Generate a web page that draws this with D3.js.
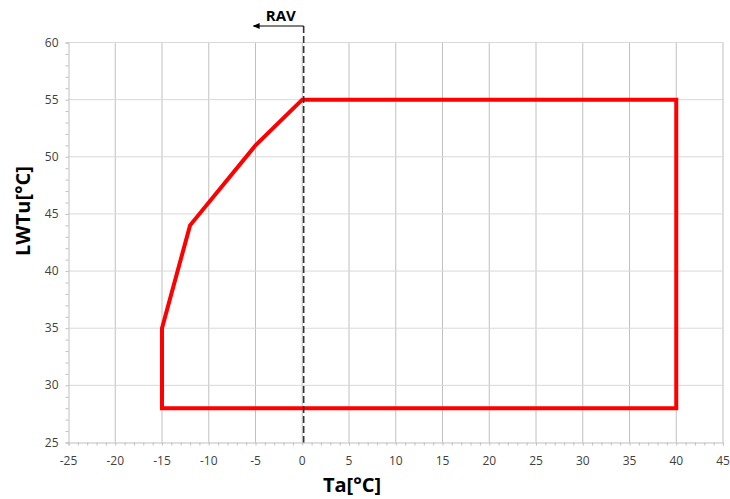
<!DOCTYPE html>
<html><head><meta charset="utf-8">
<script src="https://cdn.jsdelivr.net/npm/d3@7"></script>
<style>body{margin:0;background:#fff}svg{display:block}</style>
</head><body><svg id="c" width="730" height="499"></svg>
<script>
const xTicks = [-25,-20,-15,-10,-5,0,5,10,15,20,25,30,35,40,45];
const yTicks = [25,30,35,40,45,50,55,60];
const envTa = [-15,-15,-12,-5,0,40,40,-15];
const envLWT = [28,35,44,51,55,55,28,28];
const ravTa = 0.15;
const ravLabel = "RAV";
const xTitle = "Ta[°C]";
const yTitle = "LWTu[°C]";

const svg = d3.select("#c");
const L=68.5,R=723,T=42.5,B=442.5;
const x = d3.scaleLinear().domain([-25,45]).range([L,R]);
const y = d3.scaleLinear().domain([25,60]).range([B,T]);
const font = "'Open Sans', 'Liberation Sans', sans-serif";

// gridlines
svg.append("g").selectAll("line").data(xTicks.slice(1)).join("line")
  .attr("x1",d=>x(d)).attr("x2",d=>x(d)).attr("y1",T).attr("y2",B)
  .attr("stroke","#c0c0c0").attr("stroke-width",1);
svg.append("g").selectAll("line").data(yTicks.slice(1)).join("line")
  .attr("x1",L).attr("x2",R).attr("y1",d=>y(d)).attr("y2",d=>y(d))
  .attr("stroke","#d9d9d9").attr("stroke-width",1);

// axes
const xa = svg.append("g").attr("transform",`translate(0,${B})`)
  .call(d3.axisBottom(x).tickValues(d3.range(-25,46,1)).tickSize(3).tickFormat(""));
xa.select(".domain").attr("stroke","#bfbfbf");
xa.selectAll(".tick line").attr("stroke","#bfbfbf");
svg.append("g").selectAll("text").data(xTicks).join("text")
  .attr("x",d=>x(d)).attr("y",B+22).attr("text-anchor","middle")
  .attr("font-family",font).attr("font-size",12).attr("fill","#404040").text(d=>d);

const ya = svg.append("g").attr("transform",`translate(${L},0)`)
  .call(d3.axisLeft(y).tickValues(d3.range(25,61,1)).tickSize(3).tickFormat(""));
ya.select(".domain").attr("stroke","#bfbfbf");
ya.selectAll(".tick line").attr("stroke","#bfbfbf");
svg.append("g").selectAll("text").data(yTicks).join("text")
  .attr("x",L-10).attr("y",d=>y(d)+4).attr("text-anchor","end")
  .attr("font-family",font).attr("font-size",12).attr("fill","#404040").text(d=>d);

// envelope
const line = d3.line().x(d=>x(d[0])).y(d=>y(d[1]));
svg.append("path").datum(envTa.map((t,i)=>[t,envLWT[i]]))
  .attr("d",d=>line(d)+"Z").attr("fill","none").attr("stroke","#ff0000")
  .attr("stroke-width",4).attr("stroke-linejoin","miter");

// RAV
const ravY = 26;
svg.append("line").attr("x1",x(ravTa)).attr("x2",x(ravTa)).attr("y1",ravY).attr("y2",B)
  .attr("stroke","#333").attr("stroke-width",1.6).attr("stroke-dasharray","7,3");
svg.append("line").attr("x1",x(ravTa)).attr("x2",x(-5.2)).attr("y1",ravY).attr("y2",ravY)
  .attr("stroke","#000").attr("stroke-width",1);
svg.append("path").attr("d",`M${x(-5.2)-1},${ravY} l7,-3 l0,6 Z`).attr("fill","#000");
svg.append("text").attr("x",x(-2.3)).attr("y",21).attr("text-anchor","middle")
  .attr("font-family",font).attr("font-weight","bold").attr("font-size",15).attr("fill","#000").text(ravLabel);

// titles
svg.append("text").attr("x",352).attr("y",492).attr("text-anchor","middle")
  .attr("font-family",font).attr("font-weight","bold").attr("font-size",20).attr("fill","#000").text(xTitle);
svg.append("text").attr("transform",`translate(30,211) rotate(-90)`).attr("text-anchor","middle")
  .attr("font-family",font).attr("font-weight","bold").attr("font-size",20).attr("fill","#000").text(yTitle);
</script></body></html>
